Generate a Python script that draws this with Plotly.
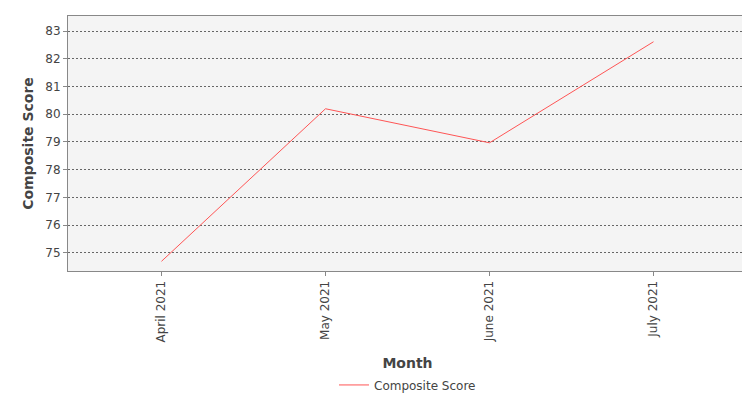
import plotly.graph_objects as go

months = ["April 2021", "May 2021", "June 2021", "July 2021"]
scores = [74.69, 80.2, 78.97, 82.62]

fig = go.Figure(go.Scatter(
    x=list(range(len(months))), y=scores, mode="lines", name="Composite Score",
    line=dict(color="#ff5555", width=1)))

fig.update_layout(
    width=750, height=400,
    margin=dict(l=60, r=11, t=8, b=126),
    paper_bgcolor="white", plot_bgcolor="#f4f4f4",
    font=dict(family="DejaVu Sans", size=12, color="#444"),
    showlegend=True,
    legend=dict(orientation="h", x=0.5, xanchor="center", y=-0.39, yanchor="top",
                font=dict(size=12, color="#444")),
    xaxis=dict(
        tickmode="array", tickvals=list(range(len(months))), ticktext=months,
        tickangle=-90, range=[-0.57, 3.57], showgrid=False, zeroline=False,
        showline=True, linecolor="#888", mirror=True, ticks="outside",
        ticklen=4, tickcolor="#888", automargin=False,
        title=dict(text="<b>Month</b>", font=dict(size=14, color="#444"), standoff=16)),
    yaxis=dict(
        range=[74.34, 83.55], dtick=1, showgrid=True, gridcolor="#666",
        griddash="2px,2px", gridwidth=0.6, zeroline=False,
        showline=True, linecolor="#888", mirror=True, ticks="outside",
        ticklen=4, tickcolor="#888", automargin=False,
        title=dict(text="<b>Composite Score</b>", font=dict(size=14, color="#444"), standoff=8)),
)

fig.write_html("out.html")
